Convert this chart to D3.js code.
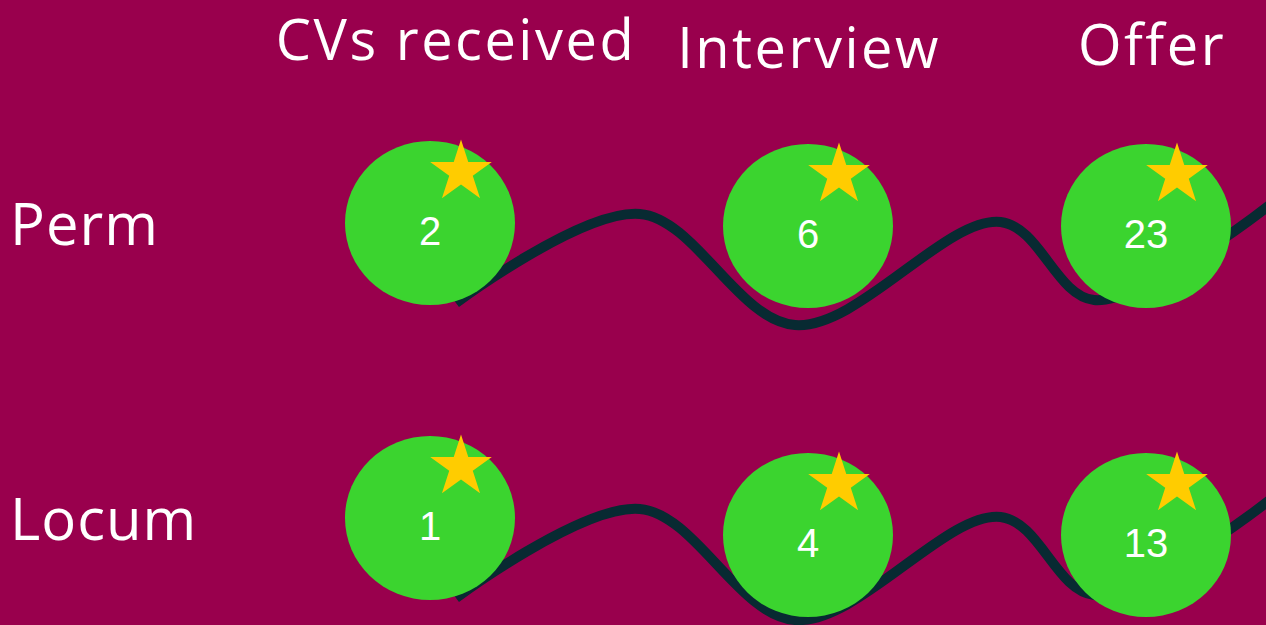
<!DOCTYPE html>
<meta charset="utf-8">
<script src="https://cdn.jsdelivr.net/npm/d3@7"></script>
<style>
    body { margin: 0; background: #99004d; }
    text { font-family: "Open Sans", sans-serif; fill: white; }
</style>
<div id="chart"></div>
<script>
    // data
    var stages = ["CVs received", "Interview", "Offer"];
    var rows = ["Perm", "Locum"];
    var permCounts = [2, 6, 23];
    var locumCounts = [1, 4, 13];

    var width = 1266, height = 625;

    // layout tweaks (pixels)
    var rowDrop = { Perm: [0, 3, 3], Locum: [0, 17, 17] };
    var headerNudge = [[26, 60], [1, 68], [6, 65]];

    var svg = d3.select("#chart")
        .append("svg")
        .attr("width", width)
        .attr("height", height);

    svg.append("rect")
        .attr("width", width)
        .attr("height", height)
        .attr("fill", "#99004d");

    var x = d3.scaleOrdinal().domain(stages).range([430, 808, 1146]);
    var y = d3.scalePoint().domain(rows).range([223, 518]);

    var table = rows.map(function(r, ri) {
        var vals = ri === 0 ? permCounts : locumCounts;
        return stages.map(function(s, si) {
            return { row: r, stage: s, value: vals[si], cx: x(s), cy: y(r) + rowDrop[r][si] };
        });
    });

    // headers
    svg.selectAll(".head")
        .data(stages)
        .enter()
        .append("text")
        .attr("class", "head")
        .attr("text-anchor", "middle")
        .attr("x", function(d, i) { return x(d) + headerNudge[i][0]; })
        .attr("y", function(d, i) { return headerNudge[i][1]; })
        .style("font-size", "56px")
        .style("letter-spacing", "2.5px")
        .text(function(d) { return d; });

    // row labels
    svg.selectAll(".rowlab")
        .data(rows)
        .enter()
        .append("text")
        .attr("class", "rowlab")
        .attr("x", 10)
        .attr("y", function(d) { return y(d) + 22; })
        .style("font-size", "58px")
        .style("letter-spacing", "1px")
        .text(function(d) { return d; });

    // wavy connector behind the bubbles
    var line = d3.line()
        .x(function(d) { return d[0]; })
        .y(function(d) { return d[1]; })
        .curve(d3.curveCatmullRom.alpha(0.5));

    rows.forEach(function(r) {
        var y0 = y(r);
        var x0 = x(stages[0]), x1 = x(stages[1]), x2 = x(stages[2]);
        var pts = [
            [x0 + 26, y0 + 80],
            [x0 + (x1 - x0) * 0.555, y0 - 9],
            [x1 - 13, y0 + 102],
            [x1 + (x2 - x1) * 0.57, y0 - 1],
            [x2 - 52, y0 + 77],
            [width + 5, y0 - 19]
        ];
        svg.append("path")
            .attr("d", line(pts))
            .attr("fill", "none")
            .attr("stroke", "#082a32")
            .attr("stroke-width", 10);
    });

    var cells = svg.selectAll(".cell")
        .data(d3.merge(table))
        .enter()
        .append("g")
        .attr("class", "cell")
        .attr("transform", function(d) { return "translate(" + d.cx + "," + d.cy + ")"; });

    cells.append("ellipse")
        .attr("rx", 85)
        .attr("ry", 82)
        .attr("fill", "#3bd42f");

    cells.append("path")
        .attr("d", d3.symbol().type(d3.symbolStar).size(1180))
        .attr("transform", "translate(31,-51)")
        .attr("fill", "#ffcc00");

    cells.append("text")
        .attr("text-anchor", "middle")
        .attr("y", 22)
        .style("font-family", "'Liberation Sans', Arial, sans-serif")
        .style("font-size", "40px")
        .text(function(d) { return d.value; });
</script>
